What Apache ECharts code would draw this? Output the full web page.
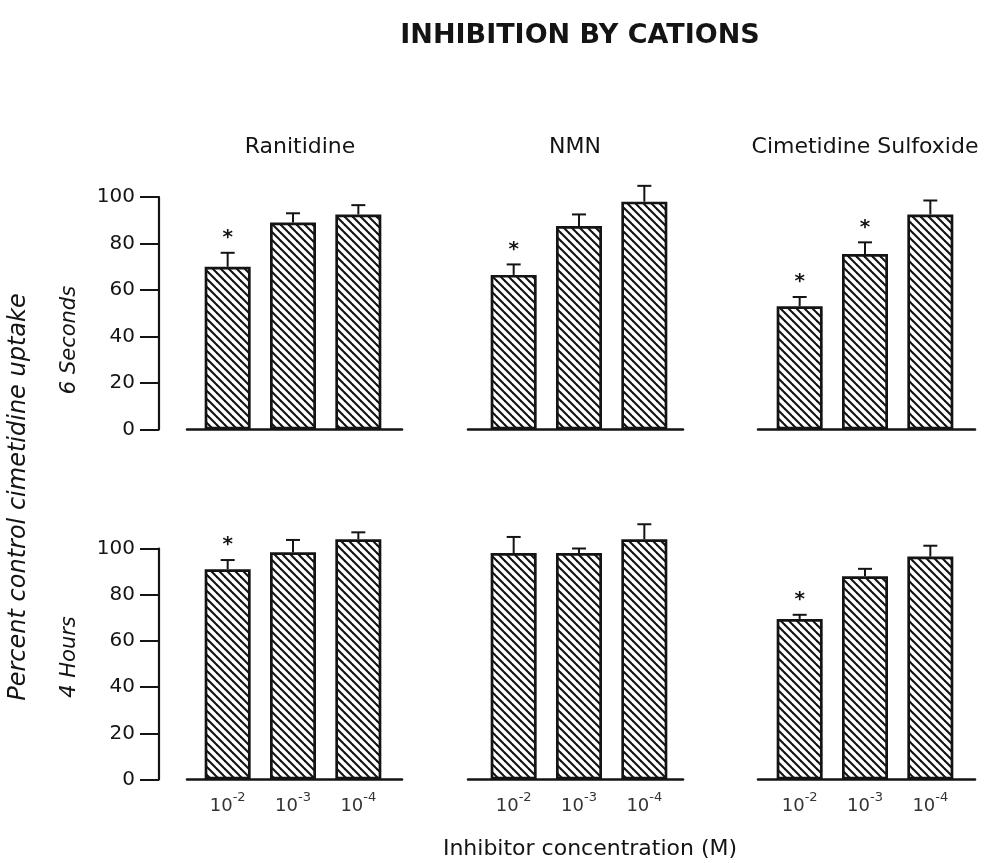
<!DOCTYPE html>
<html>
<head>
<meta charset="utf-8">
<script src="https://cdn.jsdelivr.net/npm/echarts@6/dist/echarts.min.js"></script>
<style>
html,body{margin:0;padding:0;background:#fff;}
#chart{width:986px;height:863px;}
</style>
</head>
<body>
<div id="chart"></div>
<script>
// ---- data ----
const concentrations = ['-2', '-3', '-4'];          // exponents: 10^-2, 10^-3, 10^-4 M
const drugs = ['Ranitidine', 'NMN', 'Cimetidine Sulfoxide'];
const timepoints = ['6 Seconds', '4 Hours'];
const yTicks = [0, 20, 40, 60, 80, 100];

// 6 seconds
const sec6Ranitidine = [70, 89, 92.5];
const sec6RanitidineErr = [6, 4, 4];
const sec6RanitidineSig = [1, 0, 0];
const sec6NMN = [66.5, 87.5, 98];
const sec6NMNErr = [4.5, 5, 6.8];
const sec6NMNSig = [1, 0, 0];
const sec6CimSulf = [53, 75.5, 92.5];
const sec6CimSulfErr = [4, 5, 6];
const sec6CimSulfSig = [1, 1, 0];

// 4 hours
const hr4Ranitidine = [91, 98.4, 104];
const hr4RanitidineErr = [4, 5.3, 3];
const hr4RanitidineSig = [1, 0, 0];
const hr4NMN = [98, 98, 104];
const hr4NMNErr = [7, 2, 6.5];
const hr4NMNSig = [0, 0, 0];
const hr4CimSulf = [69.5, 88, 96.5];
const hr4CimSulfErr = [1.8, 3.2, 4.7];
const hr4CimSulfSig = [1, 0, 0];

const panels = [
  [sec6Ranitidine, sec6RanitidineErr, sec6RanitidineSig],
  [sec6NMN, sec6NMNErr, sec6NMNSig],
  [sec6CimSulf, sec6CimSulfErr, sec6CimSulfSig],
  [hr4Ranitidine, hr4RanitidineErr, hr4RanitidineSig],
  [hr4NMN, hr4NMNErr, hr4NMNSig],
  [hr4CimSulf, hr4CimSulfErr, hr4CimSulfSig]
];

// ---- layout ----
const INK = '#141414';
const FONT = '"DejaVu Sans", sans-serif';
const barGridLeft = [195, 481, 767];
const barGridWidth = 196;
const baseLeft = [187, 468, 758];
const baseWidth = [215, 215, 217];
const rowTop = [197, 548.5];
const rowHeight = [232.5, 231];

function hatchCanvas() {
  const s = 8;
  const c = document.createElement('canvas');
  c.width = s; c.height = s;
  const g = c.getContext('2d');
  g.fillStyle = '#ffffff';
  g.fillRect(0, 0, s, s);
  g.strokeStyle = INK;
  g.lineWidth = 2.1;
  [-s, 0, s].forEach(function (k) {
    g.beginPath();
    g.moveTo(-2, -2 + k);
    g.lineTo(s + 2, s + 2 + k);
    g.stroke();
  });
  return c;
}
const hatch = { image: hatchCanvas(), repeat: 'repeat' };

const grid = [], xAxis = [], yAxis = [], series = [];

for (let r = 0; r < 2; r++) {
  for (let c = 0; c < 3; c++) {
    const k = r * 3 + c;
    grid.push({ left: barGridLeft[c], width: barGridWidth, top: rowTop[r], height: rowHeight[r] });
    xAxis.push({
      type: 'category', gridIndex: k, data: concentrations,
      axisLine: { show: false }, axisTick: { show: false },
      axisLabel: {
        show: r === 1, margin: 12, interval: 0,
        formatter: function (v) { return '{a|10}{b|' + v + '}'; },
        rich: {
          a: { fontFamily: FONT, fontSize: 18, color: '#333', lineHeight: 24, verticalAlign: 'bottom' },
          b: { fontFamily: FONT, fontSize: 13, color: '#333', lineHeight: 13, verticalAlign: 'top' }
        }
      }
    });
    yAxis.push({
      type: 'value', gridIndex: k, min: 0, max: 100, interval: 20,
      show: c === 0, offset: 36,
      axisLine: { show: true, lineStyle: { color: INK, width: 2.2 } },
      axisTick: { show: true, length: 19, lineStyle: { color: INK, width: 2 } },
      axisLabel: { margin: 24, fontFamily: FONT, fontSize: 20, color: INK },
      splitLine: { show: false }
    });
  }
}
// baseline grids (the horizontal base line of each panel)
for (let r = 0; r < 2; r++) {
  for (let c = 0; c < 3; c++) {
    const k = 6 + r * 3 + c;
    grid.push({ left: baseLeft[c], width: baseWidth[c], top: rowTop[r], height: rowHeight[r] });
    xAxis.push({
      type: 'value', gridIndex: k, min: 0, max: 1,
      axisLine: { show: true, onZero: false, lineStyle: { color: INK, width: 2.5 } },
      axisTick: { show: false }, axisLabel: { show: false }, splitLine: { show: false }
    });
    yAxis.push({ type: 'value', gridIndex: k, min: 0, max: 1, show: false, splitLine: { show: false } });
  }
}

function renderErr(params, api) {
  const i = api.value(0), v = api.value(1), e = api.value(2), s = api.value(3);
  const p0 = api.coord([i, v]);
  const p1 = api.coord([i, v + e]);
  const cap = 7;
  const children = [
    { type: 'line', shape: { x1: p0[0], y1: p0[1], x2: p1[0], y2: p1[1] }, style: { stroke: INK, lineWidth: 2 } },
    { type: 'line', shape: { x1: p1[0] - cap, y1: p1[1], x2: p1[0] + cap, y2: p1[1] }, style: { stroke: INK, lineWidth: 2 } }
  ];
  if (s) {
    children.push({
      type: 'text', x: p1[0], y: p1[1] - 15,
      style: { text: '*', font: 'bold 20px ' + FONT, fill: INK, align: 'center', verticalAlign: 'middle' }
    });
  }
  return { type: 'group', children: children };
}

panels.forEach(function (p, k) {
  const vals = p[0], errs = p[1], sig = p[2];
  series.push({
    type: 'bar', xAxisIndex: k, yAxisIndex: k, data: vals, barWidth: 46, clip: false,
    itemStyle: { color: hatch, borderColor: INK, borderWidth: 2.7 },
    emphasis: { disabled: true }, z: 2
  });
  series.push({
    type: 'custom', xAxisIndex: k, yAxisIndex: k, clip: false, z: 3,
    data: vals.map(function (v, i) { return [i, v, errs[i], sig[i]]; }),
    renderItem: renderErr
  });
});

const colCenter = [300, 575, 865];
const graphics = [];
drugs.forEach(function (d, c) {
  graphics.push({ type: 'text', x: colCenter[c], y: 147,
    style: { text: d, font: '22px ' + FONT, fill: INK, align: 'center', verticalAlign: 'middle' } });
});
const rowLabelY = [340, 657];
timepoints.forEach(function (t, r) {
  graphics.push({ type: 'text', x: 70, y: rowLabelY[r], rotation: Math.PI / 2,
    style: { text: t, font: 'italic 21px ' + FONT, fill: INK, align: 'center', verticalAlign: 'middle' } });
});
graphics.push({ type: 'text', x: 19, y: 497, rotation: Math.PI / 2,
  style: { text: 'Percent control cimetidine uptake', font: 'italic 24px ' + FONT, fill: INK, align: 'center', verticalAlign: 'middle' } });
graphics.push({ type: 'text', x: 590, y: 849,
  style: { text: 'Inhibitor concentration (M)', font: '22px ' + FONT, fill: INK, align: 'center', verticalAlign: 'middle' } });

const chart = echarts.init(document.getElementById('chart'), null, { renderer: 'canvas' });
chart.setOption({
  backgroundColor: '#ffffff',
  animation: false,
  title: {
    text: 'INHIBITION BY CATIONS', left: 575, top: 17, textAlign: 'center',
    textStyle: { fontFamily: FONT, fontWeight: 'bold', fontSize: 27, color: INK }
  },
  grid: grid, xAxis: xAxis, yAxis: yAxis, series: series,
  graphic: graphics
});
</script>
</body>
</html>
